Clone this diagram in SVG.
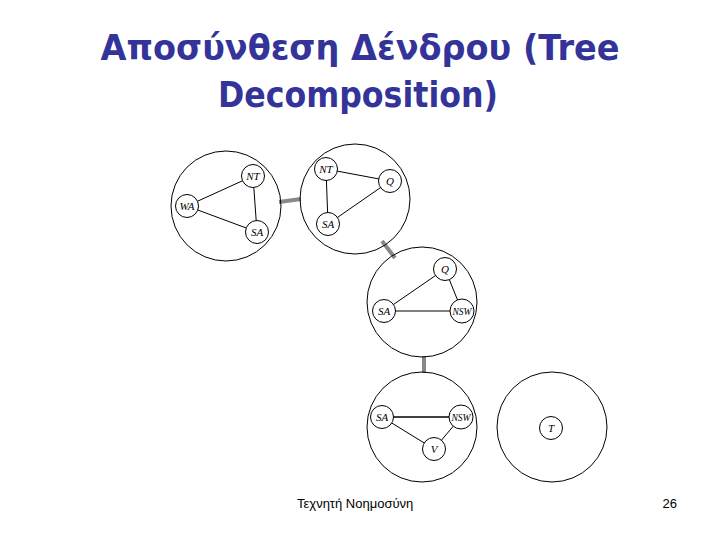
<svg xmlns="http://www.w3.org/2000/svg" width="720" height="540" viewBox="0 0 720 540">
<style>
.title{font-family:"DejaVu Sans","Noto Sans",sans-serif;font-weight:bold;font-size:36px;fill:#333399;text-anchor:middle}
.big{fill:none;stroke:#000;stroke-width:1}
.sm{fill:#fff;stroke:#000;stroke-width:1}
.e{stroke:#000;stroke-width:1}
.lbl{font-family:"Liberation Serif",serif;font-style:italic;font-size:11px;fill:#000;text-anchor:middle}
.tree{stroke:#888;stroke-width:4}
.foot{font-family:"Liberation Sans",Arial,sans-serif;font-size:13px;fill:#000}
</style>
<rect width="720" height="540" fill="#fff"/>
<text class="title" x="360" y="60" textLength="519" lengthAdjust="spacingAndGlyphs">Αποσύνθεση Δένδρου (Tree</text>
<text class="title" x="358" y="107" textLength="280" lengthAdjust="spacingAndGlyphs">Decomposition)</text>
<g id="connectors">
<line class="tree" x1="279" y1="202" x2="301" y2="199"/>
<line class="tree" x1="382" y1="241" x2="395" y2="258"/>
<line class="tree" x1="424" y1="356" x2="424" y2="373"/>
</g>
<g id="bag1">
<circle class="big" cx="226" cy="206" r="55"/>
<line class="e" x1="187" y1="206" x2="253" y2="176"/>
<line class="e" x1="253" y1="176" x2="257" y2="232"/>
<line class="e" x1="187" y1="206" x2="257" y2="232"/>
<circle class="sm" cx="253" cy="176" r="11.5"/><text class="lbl" x="253" y="180">NT</text>
<circle class="sm" cx="187" cy="206" r="11.5"/><text class="lbl" x="187" y="210">WA</text>
<circle class="sm" cx="257" cy="232" r="11.5"/><text class="lbl" x="257" y="236">SA</text>
</g>
<g id="bag2">
<circle class="big" cx="355" cy="199" r="55"/>
<line class="e" x1="326" y1="169" x2="390" y2="181"/>
<line class="e" x1="326" y1="169" x2="328" y2="224"/>
<line class="e" x1="328" y1="224" x2="390" y2="181"/>
<circle class="sm" cx="326" cy="169" r="11.5"/><text class="lbl" x="326" y="173">NT</text>
<circle class="sm" cx="390" cy="181" r="11.5"/><text class="lbl" x="390" y="185">Q</text>
<circle class="sm" cx="328" cy="224" r="11.5"/><text class="lbl" x="328" y="228">SA</text>
</g>
<g id="bag3">
<circle class="big" cx="422" cy="302" r="55"/>
<line class="e" x1="445" y1="269" x2="384" y2="311"/>
<line class="e" x1="445" y1="269" x2="462" y2="311"/>
<line class="e" x1="384" y1="311" x2="462" y2="311"/>
<circle class="sm" cx="445" cy="269" r="11.5"/><text class="lbl" x="445" y="273">Q</text>
<circle class="sm" cx="384" cy="311" r="11.5"/><text class="lbl" x="384" y="315">SA</text>
<circle class="sm" cx="462" cy="311" r="12"/><text class="lbl" x="462" y="314.5" style="font-size:9.5px">NSW</text>
</g>
<g id="bag4">
<circle class="big" cx="422" cy="427" r="55"/>
<line class="e" x1="382" y1="417" x2="461" y2="417" style="stroke-width:1.5"/>
<line class="e" x1="382" y1="417" x2="434" y2="449"/>
<line class="e" x1="461" y1="417" x2="434" y2="449"/>
<circle class="sm" cx="382" cy="417" r="11.5"/><text class="lbl" x="382" y="421">SA</text>
<circle class="sm" cx="461" cy="417" r="12"/><text class="lbl" x="461" y="420.5" style="font-size:9.5px">NSW</text>
<circle class="sm" cx="434" cy="449" r="11.5"/><text class="lbl" x="434" y="453">V</text>
</g>
<g id="bag5">
<circle class="big" cx="552" cy="427" r="55"/>
<circle class="sm" cx="551" cy="428" r="11.5"/><text class="lbl" x="551" y="432">T</text>
</g>
<text class="foot" x="297" y="508">Τεχνητή Νοημοσύνη</text>
<text class="foot" x="677" y="508" text-anchor="end">26</text>
</svg>
